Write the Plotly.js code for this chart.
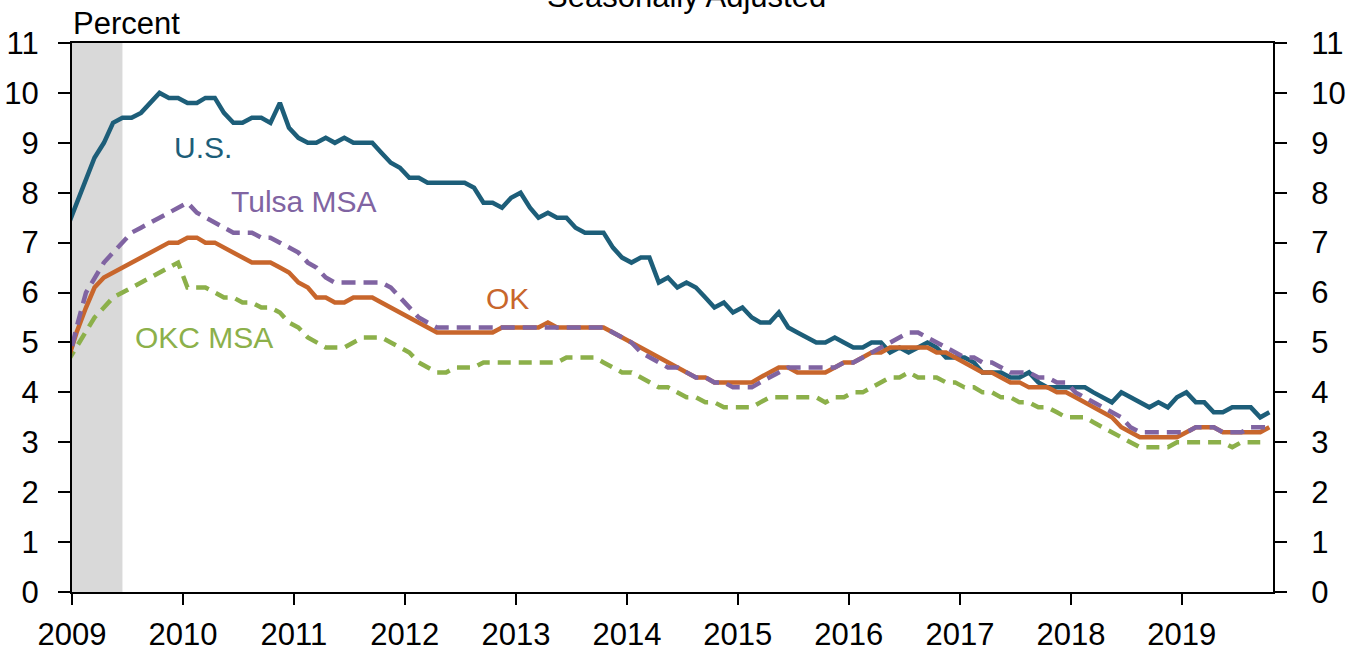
<!DOCTYPE html>
<html>
<head>
<meta charset="utf-8">
<script src="https://cdn.plot.ly/plotly-3.0.1.min.js"></script>
<style>html,body{margin:0;padding:0;background:#fff;}#chart{width:1351px;height:652px;}</style>
</head>
<body>
<div id="chart"></div>
<script>
// Monthly series, first value = Dec 2008
const seriesStart = {year: 2008, month: 12};

const usRate = [
7.3,
7.8, 8.3, 8.7, 9.0, 9.4, 9.5, 9.5, 9.6, 9.8, 10.0, 9.9, 9.9,
9.8, 9.8, 9.9, 9.9, 9.6, 9.4, 9.4, 9.5, 9.5, 9.4, 9.8, 9.3,
9.1, 9.0, 9.0, 9.1, 9.0, 9.1, 9.0, 9.0, 9.0, 8.8, 8.6, 8.5,
8.3, 8.3, 8.2, 8.2, 8.2, 8.2, 8.2, 8.1, 7.8, 7.8, 7.7, 7.9,
8.0, 7.7, 7.5, 7.6, 7.5, 7.5, 7.3, 7.2, 7.2, 7.2, 6.9, 6.7,
6.6, 6.7, 6.7, 6.2, 6.3, 6.1, 6.2, 6.1, 5.9, 5.7, 5.8, 5.6,
5.7, 5.5, 5.4, 5.4, 5.6, 5.3, 5.2, 5.1, 5.0, 5.0, 5.1, 5.0,
4.9, 4.9, 5.0, 5.0, 4.8, 4.9, 4.8, 4.9, 5.0, 4.9, 4.7, 4.7,
4.7, 4.6, 4.4, 4.4, 4.4, 4.3, 4.3, 4.4, 4.2, 4.1, 4.1, 4.1,
4.1, 4.1, 4.0, 3.9, 3.8, 4.0, 3.9, 3.8, 3.7, 3.8, 3.7, 3.9,
4.0, 3.8, 3.8, 3.6, 3.6, 3.7, 3.7, 3.7, 3.5, 3.6
];

const okRate = [
4.6,
5.2, 5.7, 6.1, 6.3, 6.4, 6.5, 6.6, 6.7, 6.8, 6.9, 7.0, 7.0,
7.1, 7.1, 7.0, 7.0, 6.9, 6.8, 6.7, 6.6, 6.6, 6.6, 6.5, 6.4,
6.2, 6.1, 5.9, 5.9, 5.8, 5.8, 5.9, 5.9, 5.9, 5.8, 5.7, 5.6,
5.5, 5.4, 5.3, 5.2, 5.2, 5.2, 5.2, 5.2, 5.2, 5.2, 5.3, 5.3,
5.3, 5.3, 5.3, 5.4, 5.3, 5.3, 5.3, 5.3, 5.3, 5.3, 5.2, 5.1,
5.0, 4.9, 4.8, 4.7, 4.6, 4.5, 4.4, 4.3, 4.3, 4.2, 4.2, 4.2,
4.2, 4.2, 4.3, 4.4, 4.5, 4.5, 4.4, 4.4, 4.4, 4.4, 4.5, 4.6,
4.6, 4.7, 4.8, 4.8, 4.9, 4.9, 4.9, 4.9, 4.9, 4.8, 4.8, 4.7,
4.6, 4.5, 4.4, 4.4, 4.3, 4.2, 4.2, 4.1, 4.1, 4.1, 4.0, 4.0,
3.9, 3.8, 3.7, 3.6, 3.5, 3.3, 3.2, 3.1, 3.1, 3.1, 3.1, 3.1,
3.2, 3.3, 3.3, 3.3, 3.2, 3.2, 3.2, 3.2, 3.2, 3.3
];

const tulsaRate = [
4.5,
5.3, 6.0, 6.3, 6.6, 6.8, 7.0, 7.2, 7.3, 7.4, 7.5, 7.6, 7.7,
7.8, 7.6, 7.5, 7.4, 7.3, 7.2, 7.2, 7.2, 7.1, 7.1, 7.0, 6.9,
6.8, 6.6, 6.5, 6.3, 6.2, 6.2, 6.2, 6.2, 6.2, 6.2, 6.1, 5.9,
5.7, 5.5, 5.4, 5.3, 5.3, 5.3, 5.3, 5.3, 5.3, 5.3, 5.3, 5.3,
5.3, 5.3, 5.3, 5.3, 5.3, 5.3, 5.3, 5.3, 5.3, 5.3, 5.2, 5.1,
5.0, 4.8, 4.7, 4.6, 4.5, 4.5, 4.4, 4.3, 4.3, 4.2, 4.2, 4.1,
4.1, 4.1, 4.2, 4.3, 4.4, 4.5, 4.5, 4.5, 4.5, 4.5, 4.5, 4.6,
4.6, 4.7, 4.8, 4.9, 5.0, 5.1, 5.2, 5.2, 5.1, 5.0, 4.9, 4.8,
4.7, 4.7, 4.6, 4.6, 4.5, 4.4, 4.4, 4.4, 4.3, 4.3, 4.2, 4.2,
4.0, 3.9, 3.8, 3.7, 3.6, 3.5, 3.3, 3.2, 3.2, 3.2, 3.2, 3.2,
3.2, 3.3, 3.3, 3.3, 3.2, 3.2, 3.2, 3.3, 3.3, 3.3
];

const okcRate = [
4.6,
4.9, 5.2, 5.5, 5.7, 5.9, 6.0, 6.1, 6.2, 6.3, 6.4, 6.5, 6.6,
6.1, 6.1, 6.1, 6.0, 5.9, 5.9, 5.8, 5.8, 5.7, 5.7, 5.6, 5.4,
5.3, 5.1, 5.0, 4.9, 4.9, 4.9, 5.0, 5.1, 5.1, 5.1, 5.0, 4.9,
4.8, 4.6, 4.5, 4.4, 4.4, 4.5, 4.5, 4.5, 4.6, 4.6, 4.6, 4.6,
4.6, 4.6, 4.6, 4.6, 4.6, 4.7, 4.7, 4.7, 4.7, 4.6, 4.5, 4.4,
4.4, 4.3, 4.2, 4.1, 4.1, 4.0, 3.9, 3.9, 3.8, 3.8, 3.7, 3.7,
3.7, 3.7, 3.8, 3.9, 3.9, 3.9, 3.9, 3.9, 3.9, 3.8, 3.9, 3.9,
4.0, 4.0, 4.1, 4.2, 4.3, 4.3, 4.4, 4.3, 4.3, 4.3, 4.2, 4.2,
4.1, 4.1, 4.0, 4.0, 3.9, 3.9, 3.8, 3.8, 3.7, 3.7, 3.6, 3.5,
3.5, 3.5, 3.4, 3.3, 3.2, 3.1, 3.0, 2.9, 2.9, 2.9, 2.9, 3.0,
3.0, 3.0, 3.0, 3.0, 3.0, 2.9, 3.0, 3.0, 3.0
];

const yearTicks = ['2009','2010','2011','2012','2013','2014','2015','2016','2017','2018','2019'];
const yTicks = [0,1,2,3,4,5,6,7,8,9,10,11];
const seriesNames = ['U.S.', 'Tulsa MSA', 'OK', 'OKC MSA'];
const recession = {start: '2009-01-01', end: '2009-06-16'};

function monthDates(n) {
  const out = [];
  for (let i = 0; i < n; i++) {
    const t = seriesStart.year * 12 + (seriesStart.month - 1) + i;
    const y = Math.floor(t / 12), m = t % 12 + 1;
    out.push(y + '-' + String(m).padStart(2, '0') + '-16');
  }
  return out;
}

const FONT = "'Liberation Sans', Arial, sans-serif";
const C_US = '#1d5e79', C_OK = '#c8662c', C_TUL = '#8064a2', C_OKC = '#8cb04a';

const traces = [
  {x: monthDates(usRate.length), y: usRate, name: seriesNames[0], type: 'scatter', mode: 'lines',
   line: {color: C_US, width: 4.5}},
  {x: monthDates(okcRate.length), y: okcRate, name: seriesNames[3], type: 'scatter', mode: 'lines',
   line: {color: C_OKC, width: 4.5, dash: '13px,8px'}},
  {x: monthDates(okRate.length), y: okRate, name: seriesNames[2], type: 'scatter', mode: 'lines',
   line: {color: C_OK, width: 4.5}},
  {x: monthDates(tulsaRate.length), y: tulsaRate, name: seriesNames[1], type: 'scatter', mode: 'lines',
   yaxis: 'y2', line: {color: C_TUL, width: 4.5, dash: '14px,8px'}}
];

const yAxisCommon = {
  range: [0, 11], tickvals: yTicks, ticktext: yTicks.map(String),
  ticks: 'outside', ticklen: 12, tickwidth: 2, tickcolor: '#000',
  showline: true, linewidth: 2, linecolor: '#000',
  showgrid: false, zeroline: false, fixedrange: true,
  tickfont: {family: FONT, size: 31, color: '#000'}
};

const layout = {
  width: 1351, height: 652,
  margin: {l: 72, r: 78, t: 43, b: 60, pad: 0},
  paper_bgcolor: '#fff', plot_bgcolor: '#fff',
  showlegend: false,
  font: {family: FONT, size: 31, color: '#000'},
  xaxis: {
    type: 'date', range: ['2009-01-01', '2019-10-28'],
    tickvals: yearTicks.map(y => y + '-01-01'), ticktext: yearTicks,
    ticks: 'outside', ticklen: 11, tickwidth: 2, tickcolor: '#000',
    showline: true, linewidth: 2, linecolor: '#000', mirror: true,
    showgrid: false, zeroline: false,
    tickfont: {family: FONT, size: 31, color: '#000'}, ticklabelstandoff: 3
  },
  yaxis: Object.assign({}, yAxisCommon, {side: 'left', ticklabelstandoff: 13}),
  yaxis2: Object.assign({}, yAxisCommon, {side: 'right', overlaying: 'y', anchor: 'x', ticklabelstandoff: 18}),
  shapes: [{
    type: 'rect', xref: 'x', yref: 'y', x0: recession.start, x1: recession.end, y0: 0, y1: 11,
    fillcolor: '#d9d9d9', line: {width: 0}, layer: 'below'
  }],
  annotations: [
    {text: 'Seasonally Adjusted', xref: 'paper', yref: 'paper', x: 0.512, y: 1.049, xanchor: 'center', yanchor: 'bottom',
     showarrow: false, font: {family: FONT, size: 31, color: '#000'}},
    {text: 'Percent', xref: 'paper', yref: 'paper', x: 0, y: 1, xanchor: 'left', yanchor: 'bottom', xshift: -1,
     showarrow: false, font: {family: FONT, size: 31, color: '#000'}},
    {text: seriesNames[0], xref: 'paper', yref: 'y', x: 0.1087, y: 8.9, xanchor: 'center', yanchor: 'middle',
     showarrow: false, font: {family: FONT, size: 30, color: C_US}},
    {text: seriesNames[1], xref: 'paper', yref: 'y', x: 0.1932, y: 7.82, xanchor: 'center', yanchor: 'middle',
     showarrow: false, font: {family: FONT, size: 30, color: C_TUL}},
    {text: seriesNames[2], xref: 'paper', yref: 'y', x: 0.363, y: 5.89, xanchor: 'center', yanchor: 'middle',
     showarrow: false, font: {family: FONT, size: 30, color: C_OK}},
    {text: seriesNames[3], xref: 'paper', yref: 'y', x: 0.1097, y: 5.09, xanchor: 'center', yanchor: 'middle',
     showarrow: false, font: {family: FONT, size: 30, color: C_OKC}}
  ]
};

Plotly.newPlot('chart', traces, layout, {displayModeBar: false, staticPlot: true});
</script>
</body>
</html>
